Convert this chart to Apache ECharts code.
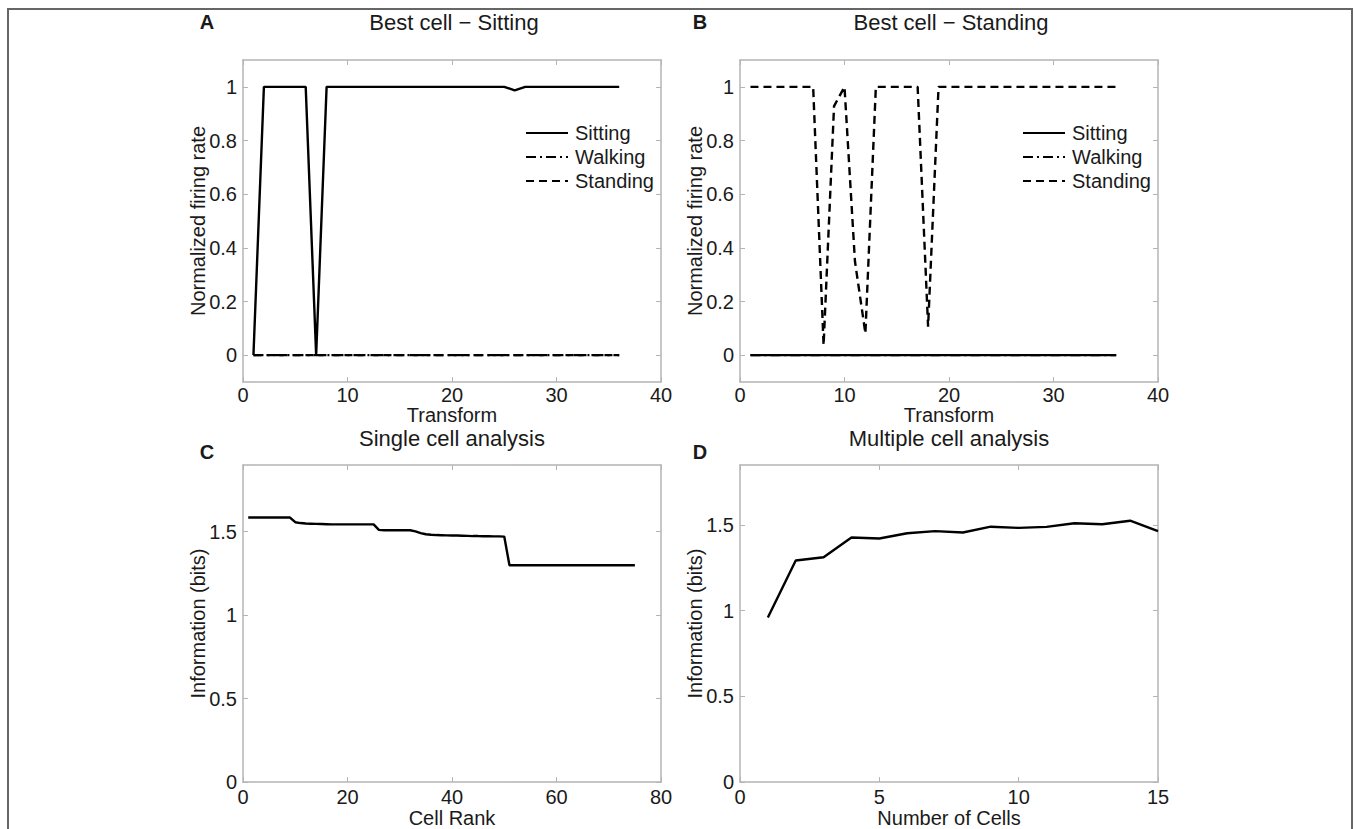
<!DOCTYPE html>
<html>
<head>
<meta charset="utf-8">
<script src="https://cdn.jsdelivr.net/npm/echarts@6/dist/echarts.min.js"></script>
<style>html,body{margin:0;padding:0;background:#fff;}#c{width:1355px;height:829px;}</style>
</head>
<body>
<div id="c"></div>
<script>
// ---- Data ----
var transformX = [1,2,3,4,5,6,7,8,9,10,11,12,13,14,15,16,17,18,19,20,21,22,23,24,25,26,27,28,29,30,31,32,33,34,35,36];
var sittingA  = [0,1,1,1,1,1,0,1,1,1,1,1,1,1,1,1,1,1,1,1,1,1,1,1,1,0.987,1,1,1,1,1,1,1,1,1,1];
var walkingA  = [0,0,0,0,0,0,0,0,0,0,0,0,0,0,0,0,0,0,0,0,0,0,0,0,0,0,0,0,0,0,0,0,0,0,0,0];
var standingA = [0,0,0,0,0,0,0,0,0,0,0,0,0,0,0,0,0,0,0,0,0,0,0,0,0,0,0,0,0,0,0,0,0,0,0,0];
var sittingB  = [0,0,0,0,0,0,0,0,0,0,0,0,0,0,0,0,0,0,0,0,0,0,0,0,0,0,0,0,0,0,0,0,0,0,0,0];
var walkingB  = [0,0,0,0,0,0,0,0,0,0,0,0,0,0,0,0,0,0,0,0,0,0,0,0,0,0,0,0,0,0,0,0,0,0,0,0];
var standingB = [1,1,1,1,1,1,1,0.037,0.928,1,0.35,0.081,1,1,1,1,1,0.106,1,1,1,1,1,1,1,1,1,1,1,1,1,1,1,1,1,1];

var rankX = [1,2,3,4,5,6,7,8,9,10,11,12,13,14,15,16,17,18,19,20,21,22,23,24,25,26,27,28,29,30,31,32,33,34,35,36,37,38,39,40,41,42,43,44,45,46,47,48,49,50,51,52,53,54,55,56,57,58,59,60,61,62,63,64,65,66,67,68,69,70,71,72,73,74,75];
var infoC = [1.585,1.585,1.585,1.585,1.585,1.585,1.585,1.585,1.585,
  1.557,1.552,1.549,1.548,1.547,1.546,1.545,
  1.544,1.544,1.544,1.544,1.544,1.544,1.544,1.544,1.544,
  1.511,1.509,1.509,1.509,1.509,1.509,1.509,
  1.502,1.492,1.485,1.482,
  1.480,1.479,1.478,1.477,1.477,1.476,1.475,1.474,1.474,1.473,1.473,1.472,1.472,1.471,
  1.299,1.299,1.299,1.299,1.299,1.299,1.299,1.299,1.299,1.299,1.299,1.299,1.299,1.299,1.299,1.299,1.299,1.299,1.299,1.299,1.299,1.299,1.299,1.299,1.299];

var cellsX = [1,2,3,4,5,6,7,8,9,10,11,12,13,14,15];
var infoD = [0.96,1.293,1.312,1.427,1.421,1.452,1.464,1.456,1.490,1.483,1.489,1.510,1.504,1.525,1.464];

var rateTicks = [0,0.2,0.4,0.6,0.8,1];
var infoTicks = [0,0.5,1,1.5];
var seriesNames = ['Sitting','Walking','Standing'];
var panelTitles = ['Best cell \u2212 Sitting','Best cell \u2212 Standing','Single cell analysis','Multiple cell analysis'];
var panelLetters = ['A','B','C','D'];

// ---- Styles ----
var FONT = '"Liberation Sans", Arial, Helvetica, sans-serif';
var AXIS_GRAY = '#b4b4b4';
var TEXT = '#1a1a1a';
var LW = 2.4;
var dashStyles = { Sitting: 'solid', Walking: [10,4,2,4], Standing: [8,5] };

function pairs(xs, ys){ return xs.map(function(x,i){ return [x, ys[i]]; }); }

var grids = [
  {left:243, top:60,  width:418, height:322},
  {left:740, top:60,  width:418, height:322},
  {left:243, top:465, width:418, height:322},
  {left:740, top:465, width:418, height:322}
];

var xRanges = [
  {min:0,max:40,interval:10,name:'Transform',gap:23,margin:3},
  {min:0,max:40,interval:10,name:'Transform',gap:23,margin:3},
  {min:0,max:80,interval:20,name:'Cell Rank',gap:26,margin:5},
  {min:0,max:15,interval:5,name:'Number of Cells',gap:26,margin:5}
];
var yRanges = [
  {min:-0.1,max:1.1,ticks:rateTicks,name:'Normalized firing rate'},
  {min:-0.1,max:1.1,ticks:rateTicks,name:'Normalized firing rate'},
  {min:0,max:1.9,ticks:infoTicks,name:'Information (bits)'},
  {min:0,max:1.85,ticks:infoTicks,name:'Information (bits)'}
];

var xAxes = [], yAxes = [];
grids.forEach(function(g, i){
  var xr = xRanges[i], yr = yRanges[i];
  xAxes.push({
    type:'value', gridIndex:i, min:xr.min, max:xr.max, interval:xr.interval,
    name:xr.name, nameLocation:'middle', nameGap:xr.gap, nameMoveOverlap:false,
    nameTextStyle:{fontFamily:FONT, fontSize:20, color:TEXT},
    axisLine:{show:true, onZero:false, lineStyle:{color:AXIS_GRAY, width:1.5}},
    axisTick:{show:true, inside:true, length:5, lineStyle:{color:AXIS_GRAY}},
    axisLabel:{fontFamily:FONT, fontSize:20, color:TEXT, margin:xr.margin, showMinLabel:true, showMaxLabel:true},
    splitLine:{show:false}
  });
  xAxes.push({
    type:'value', gridIndex:i, position:'top', min:xr.min, max:xr.max, interval:xr.interval,
    axisLine:{show:true, onZero:false, lineStyle:{color:AXIS_GRAY, width:1.5}},
    axisTick:{show:true, inside:true, length:5, lineStyle:{color:AXIS_GRAY}},
    axisLabel:{show:false}, splitLine:{show:false}
  });
  yAxes.push({
    type:'value', gridIndex:i, min:yr.min, max:yr.max,
    name:yr.name, nameLocation:'middle', nameGap:35, nameRotate:90, nameMoveOverlap:false,
    nameTextStyle:{fontFamily:FONT, fontSize:20, color:TEXT},
    axisLine:{show:true, onZero:false, lineStyle:{color:AXIS_GRAY, width:1.5}},
    axisTick:{show:true, inside:true, length:5, lineStyle:{color:AXIS_GRAY}, customValues:yr.ticks},
    axisLabel:{fontFamily:FONT, fontSize:20, color:TEXT, margin:6, customValues:yr.ticks},
    splitLine:{show:false}
  });
  yAxes.push({
    type:'value', gridIndex:i, position:'right', min:yr.min, max:yr.max,
    axisLine:{show:true, onZero:false, lineStyle:{color:AXIS_GRAY, width:1.5}},
    axisTick:{show:true, inside:true, length:5, lineStyle:{color:AXIS_GRAY}, customValues:yr.ticks},
    axisLabel:{show:false, customValues:yr.ticks}, splitLine:{show:false}
  });
});

function lineSeries(name, data, gi, z, type){
  return {
    type:'line', name:name, data:data, xAxisIndex:gi*2, yAxisIndex:gi*2,
    showSymbol:false, symbol:'none', animation:false, z:z||2,
    lineStyle:{color:'#000', width:LW, type:type || dashStyles[name] || 'solid'},
    itemStyle:{color:'#000'}
  };
}

var series = [
  lineSeries('Sitting', pairs(transformX, sittingA), 0, 3),
  lineSeries('Walking', pairs(transformX, walkingA), 0, 2),
  lineSeries('Standing', pairs(transformX, standingA), 0, 2),
  lineSeries('Walking', pairs(transformX, walkingB), 1, 2),
  lineSeries('Standing', pairs(transformX, standingB), 1, 2),
  lineSeries('Sitting', pairs(transformX, sittingB), 1, 3),
  lineSeries('Single cell', pairs(rankX, infoC), 2, 3, 'solid'),
  lineSeries('Multiple cells', pairs(cellsX, infoD), 3, 3, 'solid')
];

function legendAt(left, top){
  return {
    data:seriesNames, orient:'vertical', left:left, top:top,
    itemWidth:42, itemHeight:14, itemGap:4, selectedMode:false,
    itemStyle:{color:'rgba(0,0,0,0)', borderWidth:0, opacity:0},
    textStyle:{fontFamily:FONT, fontSize:20, color:TEXT, padding:[0,0,0,2]}
  };
}

var titlePos = [[454,22],[951,22],[452,438],[949,438]];
var letterPos = [[207,22],[700,22],[207,452],[700,452]];
var graphics = [{
  type:'rect', shape:{x:8, y:9, width:1344, height:850},
  style:{fill:'none', stroke:'#666', lineWidth:2}, silent:true
}];
panelTitles.forEach(function(t,i){
  graphics.push({type:'text', x:titlePos[i][0], y:titlePos[i][1],
    style:{text:t, fontFamily:FONT, fontSize:22, fill:TEXT, textAlign:'center', textVerticalAlign:'middle'}});
  graphics.push({type:'text', x:letterPos[i][0], y:letterPos[i][1],
    style:{text:panelLetters[i], fontFamily:FONT, fontSize:20, fontWeight:'bold', fill:TEXT, textAlign:'center', textVerticalAlign:'middle'}});
});

var chart = echarts.init(document.getElementById('c'), null, {renderer:'svg'});
chart.setOption({
  backgroundColor:'#fff',
  animation:false,
  grid:grids.map(function(g){ return Object.assign({containLabel:false}, g); }),
  xAxis:xAxes, yAxis:yAxes,
  legend:[legendAt(520,118), legendAt(1017,118)],
  series:series,
  graphic:graphics
});
</script>
</body>
</html>
